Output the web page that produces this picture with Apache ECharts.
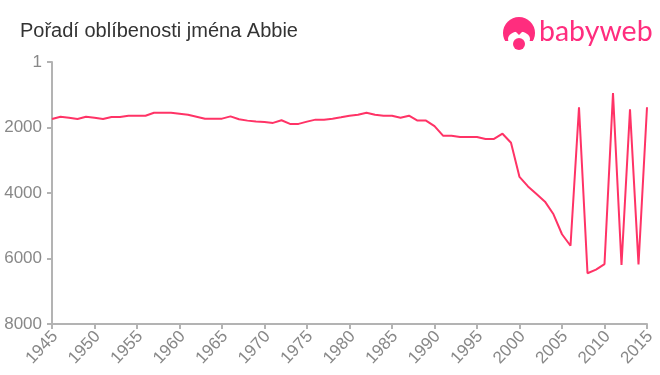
<!DOCTYPE html>
<html>
<head>
<meta charset="utf-8">
<style>
  html, body { margin: 0; padding: 0; background: #fff; }
  #chart { width: 660px; height: 375px; }
</style>
<script src="https://cdn.jsdelivr.net/npm/echarts@6/dist/echarts.min.js"></script>
</head>
<body>
<div id="chart"></div>
<script>
var years = [1945, 1946, 1947, 1948, 1949, 1950, 1951, 1952, 1953, 1954, 1955, 1956, 1957, 1958, 1959, 1960, 1961, 1962, 1963, 1964, 1965, 1966, 1967, 1968, 1969, 1970, 1971, 1972, 1973, 1974, 1975, 1976, 1977, 1978, 1979, 1980, 1981, 1982, 1983, 1984, 1985, 1986, 1987, 1988, 1989, 1990, 1991, 1992, 1993, 1994, 1995, 1996, 1997, 1998, 1999, 2000, 2001, 2002, 2003, 2004, 2005, 2006, 2007, 2008, 2009, 2010, 2011, 2012, 2013, 2014, 2015];
var ranks = [1740, 1670, 1700, 1740, 1670, 1700, 1740, 1680, 1680, 1640, 1640, 1640, 1550, 1550, 1550, 1580, 1610, 1670, 1730, 1730, 1730, 1660, 1750, 1790, 1820, 1830, 1860, 1780, 1890, 1890, 1820, 1760, 1760, 1730, 1690, 1640, 1610, 1550, 1610, 1640, 1640, 1700, 1640, 1790, 1790, 1960, 2250, 2250, 2290, 2290, 2290, 2350, 2350, 2190, 2465, 3510, 3800, 4030, 4265, 4650, 5260, 5610, 1380, 6450, 6340, 6170, 950, 6200, 1445, 6180, 1380];
var titleText = 'Pořadí oblíbenosti jména Abbie';
var logoText = 'babyweb';

var pink = '#ff3366';
var logoPink = '#ff2d7e';
var grey = '#888888';
var axisGrey = '#b3b3b3';
var fontName = '"Liberation Sans", Arial, sans-serif';

var chart = echarts.init(document.getElementById('chart'), null, { renderer: 'canvas' });
chart.setOption({
  animation: false,
  backgroundColor: '#fff',
  title: {
    text: titleText,
    left: 15,
    top: 16,
    textStyle: { color: '#333333', fontSize: 20, fontWeight: 'normal', fontFamily: fontName }
  },
  grid: { left: 52, right: 13, top: 62, bottom: 51 },
  xAxis: {
    type: 'value',
    min: 1945,
    max: 2015,
    interval: 5,
    splitLine: { show: false },
    axisLine: { show: true, onZero: false, lineStyle: { color: axisGrey, width: 2 } },
    axisTick: { show: true, length: 5, lineStyle: { color: axisGrey, width: 2 } },
    axisLabel: {
      color: grey,
      fontSize: 17,
      fontFamily: fontName,
      rotate: 47,
      margin: 7,
      align: 'right',
      verticalAlign: 'top',
      lineHeight: 8,
      hideOverlap: false,
      showMinLabel: true,
      showMaxLabel: true,
      formatter: function(v) { return String(v); }
    }
  },
  yAxis: {
    type: 'value',
    inverse: true,
    min: 0,
    max: 8000,
    interval: 2000,
    splitLine: { show: false },
    axisLine: { show: true, onZero: false, lineStyle: { color: axisGrey, width: 2 } },
    axisTick: { show: true, length: 5, lineStyle: { color: axisGrey, width: 2 } },
    axisLabel: {
      color: grey,
      fontSize: 17,
      fontFamily: fontName,
      margin: 10,
      showMinLabel: true,
      showMaxLabel: true,
      formatter: function(v) { return v === 0 ? '1' : String(v); }
    }
  },
  series: [{
    type: 'line',
    data: years.map(function(y, i) { return [y, ranks[i]]; }),
    showSymbol: false,
    smooth: false,
    clip: false,
    lineStyle: { color: pink, width: 2 }
  }],
  graphic: [
    { type: 'circle', shape: { cx: 519, cy: 33, r: 16 }, style: { fill: logoPink } },
    { type: 'ellipse', shape: { cx: 519, cy: 39, rx: 11, ry: 7.5 }, style: { fill: '#fff' } },
    { type: 'rect', shape: { x: 502, y: 41, width: 34, height: 10 }, style: { fill: '#fff' } },
    { type: 'polygon', shape: { points: [[514, 30], [524, 30], [519, 35]] }, style: { fill: logoPink } },
    { type: 'circle', shape: { cx: 519, cy: 44, r: 6 }, style: { fill: logoPink } },
    { type: 'text', left: 539, top: 17, style: { text: logoText, fill: logoPink, fontSize: 28.5, fontFamily: '"Lato", "Noto Sans", sans-serif', fontWeight: 'normal' } }
  ]
});
window.addEventListener('resize', function() { chart.resize(); });
</script>
</body>
</html>
